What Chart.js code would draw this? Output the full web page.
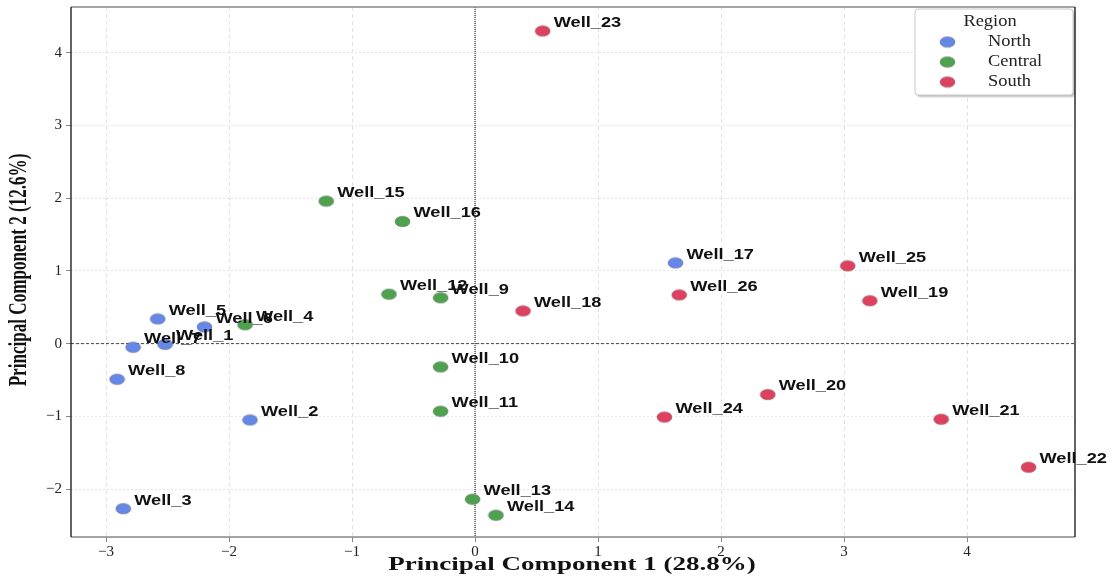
<!DOCTYPE html>
<html>
<head>
<meta charset="utf-8">
<script src="https://cdn.jsdelivr.net/npm/chart.js@4.4.0/dist/chart.umd.min.js"></script>
<style>
  html, body { margin: 0; padding: 0; background: #fff; }
  #wrap { width: 1114px; height: 579px; }
</style>
</head>
<body>
<div id="wrap"><canvas id="pcaChart"></canvas></div>
<script>
// values
const wells = ['Well_1','Well_2','Well_3','Well_4','Well_5','Well_6','Well_7','Well_8',
  'Well_9','Well_10','Well_11','Well_12','Well_13','Well_14','Well_15','Well_16',
  'Well_17','Well_18','Well_19','Well_20','Well_21','Well_22','Well_23','Well_24','Well_25','Well_26'];
const pc1 = [-2.52,-1.83,-2.86,-1.87,-2.58,-2.20,-2.78,-2.91,
  -0.28,-0.28,-0.28,-0.70,-0.02,0.17,-1.21,-0.59,
  1.63,0.39,3.21,2.38,3.79,4.50,0.55,1.54,3.03,1.66];
const pc2 = [-0.01,-1.05,-2.27,0.26,0.34,0.23,-0.05,-0.49,
  0.63,-0.32,-0.93,0.68,-2.14,-2.36,1.96,1.68,
  1.11,0.45,0.59,-0.70,-1.04,-1.70,4.30,-1.01,1.07,0.67];
const wellRegion = ['North','North','North','Central','North','North','North','North',
  'Central','Central','Central','Central','Central','Central','Central','Central',
  'North','South','South','South','South','South','South','South','South','South'];
const regions = ['North','Central','South'];
const regionColors = ['#6587e6','#4ea24e','#e0405f'];
const xTicks = [-3,-2,-1,0,1,2,3,4];
const yTicks = [-2,-1,0,1,2,3,4];

function ellipseMarker(color) {
  const c = document.createElement('canvas');
  c.width = 17; c.height = 13;
  const g = c.getContext('2d');
  g.beginPath();
  g.ellipse(8.5, 6.5, 7.5, 5.3, 0, 0, Math.PI * 2);
  g.fillStyle = color;
  g.fill();
  g.lineWidth = 0.7;
  g.strokeStyle = 'rgba(70,70,70,0.5)';
  g.stroke();
  return c;
}
const markers = regionColors.map(ellipseMarker);

const datasets = regions.map((r, k) => {
  const pts = [];
  wells.forEach((w, i) => {
    if (wellRegion[i] === r) pts.push({ x: pc1[i], y: pc2[i], label: w });
  });
  return {
    label: r,
    data: pts,
    pointStyle: markers[k],
    backgroundColor: regionColors[k],
    borderColor: regionColors[k]
  };
});

function stretchedText(ctx, text, x, y, sx, sy, rot) {
  ctx.save();
  ctx.translate(x, y);
  if (rot) ctx.rotate(rot);
  ctx.scale(sx, sy);
  ctx.fillText(text, 0, 0);
  ctx.restore();
}

const decorations = {
  id: 'decorations',
  beforeDatasetsDraw(chart) {
    const { ctx, chartArea: a, scales: { x, y } } = chart;
    ctx.save();
    // zero lines
    ctx.strokeStyle = '#444';
    ctx.lineWidth = 1;
    ctx.setLineDash([3, 2]);
    const y0 = y.getPixelForValue(0);
    ctx.beginPath(); ctx.moveTo(a.left, y0); ctx.lineTo(a.right, y0); ctx.stroke();
    ctx.strokeStyle = '#000';
    ctx.setLineDash([1, 1]);
    const x0 = x.getPixelForValue(0);
    ctx.beginPath(); ctx.moveTo(x0, a.top); ctx.lineTo(x0, a.bottom); ctx.stroke();
    ctx.restore();
  },
  afterDraw(chart) {
    const { ctx, chartArea: a, scales: { x, y } } = chart;
    ctx.save();
    // frame
    ctx.lineWidth = 1.5;
    ctx.strokeStyle = '#888';
    ctx.beginPath();
    ctx.moveTo(a.left, a.top); ctx.lineTo(a.right, a.top);
    ctx.moveTo(a.left, a.bottom); ctx.lineTo(a.right, a.bottom);
    ctx.stroke();
    ctx.strokeStyle = '#111';
    ctx.lineWidth = 1.3;
    ctx.beginPath();
    ctx.moveTo(a.left, a.top); ctx.lineTo(a.left, a.bottom);
    ctx.moveTo(a.right, a.top); ctx.lineTo(a.right, a.bottom);
    ctx.stroke();

    // point labels
    ctx.fillStyle = '#111';
    ctx.font = 'bold 14px "Liberation Sans", Arial, sans-serif';
    ctx.textBaseline = 'middle';
    ctx.textAlign = 'left';
    wells.forEach((w, i) => {
      const px = x.getPixelForValue(pc1[i]);
      const py = y.getPixelForValue(pc2[i]);
      stretchedText(ctx, w, px + 11, py - 8, 1.3, 1);
    });

    // axis titles
    ctx.fillStyle = '#111';
    ctx.font = 'bold 18px "Liberation Serif", "Times New Roman", serif';
    ctx.textAlign = 'center';
    ctx.textBaseline = 'middle';
    stretchedText(ctx, 'Principal Component 1 (28.8%)', (a.left + a.right) / 2 - 1, 565, 1.5, 1);
    stretchedText(ctx, 'Principal Component 2 (12.6%)', 19, 270, 0.95, 1.4, -Math.PI / 2);

    // legend
    const bx = 915, by = 9, bw = 158, bh = 86;
    ctx.shadowColor = 'rgba(0,0,0,0.25)';
    ctx.shadowOffsetX = 2; ctx.shadowOffsetY = 2; ctx.shadowBlur = 2;
    ctx.fillStyle = '#fff';
    ctx.beginPath();
    ctx.roundRect(bx, by, bw, bh, 3);
    ctx.fill();
    ctx.shadowColor = 'transparent';
    ctx.strokeStyle = '#c8c8c8';
    ctx.lineWidth = 1;
    ctx.stroke();
    ctx.fillStyle = '#222';
    ctx.font = '16px "Liberation Serif", "Times New Roman", serif';
    ctx.textAlign = 'center';
    stretchedText(ctx, 'Region', bx + 75, by + 13, 1.15, 1);
    ctx.textAlign = 'left';
    regions.forEach((r, k) => {
      const ry = by + 33 + k * 20;
      ctx.drawImage(markers[k], bx + 24, ry - 6.5);
      ctx.fillStyle = '#222';
      stretchedText(ctx, r, bx + 73, ry, 1.15, 1);
    });
    ctx.restore();
  }
};

new Chart(document.getElementById('pcaChart'), {
  type: 'scatter',
  data: { datasets },
  options: {
    responsive: true,
    maintainAspectRatio: false,
    animation: false,
    events: [],
    layout: { padding: { left: 0, right: 39, top: 5, bottom: 0 } },
    elements: { point: { radius: 6 } },
    plugins: {
      legend: { display: false },
      tooltip: { enabled: false }
    },
    scales: {
      x: {
        type: 'linear',
        min: -3.285, max: 4.878,
        afterBuildTicks: s => { s.ticks = xTicks.map(v => ({ value: v })); },
        afterFit: s => { s.height = 42; },
        ticks: {
          color: '#222',
          font: { family: '"Liberation Serif", "Times New Roman", serif', size: 15 },
          padding: 1,
          callback: v => String(v).replace('-', '\u2212')
        },
        grid: { color: '#e2e2e2', lineWidth: 1, tickLength: 5, tickColor: '#888' },
        border: { display: false, dash: [4, 3] }
      },
      y: {
        type: 'linear',
        min: -2.66, max: 4.63,
        afterBuildTicks: s => { s.ticks = yTicks.map(v => ({ value: v })); },
        afterFit: s => { s.width = 71; s.paddingTop = 0; s.paddingBottom = 0; },
        ticks: {
          color: '#222',
          font: { family: '"Liberation Serif", "Times New Roman", serif', size: 15 },
          padding: 4,
          callback: v => String(v).replace('-', '\u2212')
        },
        grid: { color: '#e6e6e6', lineWidth: 1, tickLength: 5, tickColor: '#888' },
        border: { display: false, dash: [2, 2] }
      }
    }
  },
  plugins: [decorations]
});
</script>
</body>
</html>
